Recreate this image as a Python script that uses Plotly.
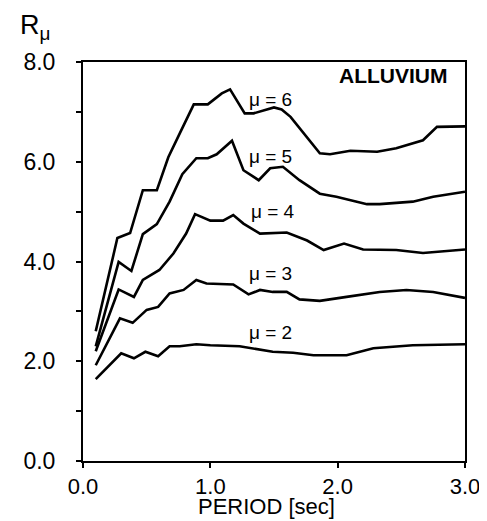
import plotly.graph_objects as go

# --- data ---
mu6_x = [0.1, 0.27, 0.37, 0.47, 0.58, 0.67, 0.76, 0.87, 0.98, 1.09, 1.155, 1.27, 1.34, 1.43, 1.5, 1.56, 1.63, 1.86, 1.94, 2.1, 2.31, 2.46, 2.67, 2.78, 3.0]
mu6_y = [2.6, 4.47, 4.57, 5.43, 5.43, 6.09, 6.57, 7.15, 7.15, 7.37, 7.45, 6.97, 6.97, 7.03, 7.09, 7.05, 6.9, 6.17, 6.15, 6.22, 6.2, 6.27, 6.43, 6.7, 6.71]

mu5_x = [0.1, 0.28, 0.38, 0.47, 0.58, 0.68, 0.78, 0.89, 0.98, 1.05, 1.17, 1.26, 1.38, 1.47, 1.57, 1.7, 1.86, 1.99, 2.23, 2.33, 2.59, 2.75, 3.0]
mu5_y = [2.3, 3.99, 3.81, 4.55, 4.75, 5.2, 5.75, 6.07, 6.07, 6.15, 6.42, 5.83, 5.63, 5.87, 5.9, 5.63, 5.36, 5.3, 5.15, 5.15, 5.2, 5.3, 5.4]

mu4_x = [0.1, 0.28, 0.4, 0.47, 0.6, 0.71, 0.81, 0.88, 1.0, 1.1, 1.18, 1.26, 1.39, 1.6, 1.76, 1.89, 2.05, 2.2, 2.46, 2.67, 3.0]
mu4_y = [2.2, 3.44, 3.29, 3.63, 3.83, 4.16, 4.56, 4.95, 4.82, 4.82, 4.93, 4.76, 4.56, 4.58, 4.42, 4.23, 4.36, 4.24, 4.23, 4.17, 4.24]

mu3_x = [0.1, 0.29, 0.39, 0.5, 0.59, 0.68, 0.79, 0.89, 0.97, 1.18, 1.3, 1.39, 1.49, 1.6, 1.7, 1.86, 2.07, 2.33, 2.54, 2.75, 3.0]
mu3_y = [1.92, 2.86, 2.77, 3.03, 3.09, 3.36, 3.43, 3.63, 3.56, 3.54, 3.34, 3.43, 3.39, 3.39, 3.24, 3.21, 3.29, 3.39, 3.43, 3.39, 3.27]

mu2_x = [0.1, 0.3, 0.4, 0.49, 0.59, 0.68, 0.76, 0.89, 1.0, 1.23, 1.49, 1.65, 1.81, 2.07, 2.28, 2.59, 3.0]
mu2_y = [1.64, 2.16, 2.06, 2.19, 2.10, 2.30, 2.30, 2.34, 2.32, 2.30, 2.19, 2.17, 2.12, 2.12, 2.26, 2.32, 2.34]

series_names = ["μ = 6", "μ = 5", "μ = 4", "μ = 3", "μ = 2"]
series_x = [mu6_x, mu5_x, mu4_x, mu3_x, mu2_x]
series_y = [mu6_y, mu5_y, mu4_y, mu3_y, mu2_y]

label_x = [1.47, 1.47, 1.49, 1.47, 1.47]
label_y = [7.24, 6.11, 5.01, 3.76, 2.58]

x_tick_vals = [0.0, 1.0, 2.0, 3.0]
x_tick_text = ["0.0", "1.0", "2.0", "3.0"]
y_tick_vals = [0, 1, 2, 3, 4, 5, 6, 7, 8]
y_tick_text = ["0.0", "", "2.0", "", "4.0", "", "6.0", "", "8.0"]

FONT = "Liberation Sans, Arial, sans-serif"

# the page body adds an 8px offset; figure sized to fit the 487x521 window
OFF = 8
W, H = 487 - OFF, 521 - OFF
ML, MR, MT, MB = 83 - OFF, 22, 62 - OFF, 60
PW, PH = W - ML - MR, H - MT - MB


def px_x(p):
    # p: page pixel x
    return (p - OFF - ML) / PW


def px_y(p):
    # p: page pixel y
    return (H - MB - (p - OFF)) / PH


fig = go.Figure()
for name, xs, ys in zip(series_names, series_x, series_y):
    fig.add_trace(go.Scatter(x=xs, y=ys, mode="lines", name=name,
                             line=dict(color="black", width=2.6),
                             showlegend=False, hoverinfo="skip"))

for name, lx, ly in zip(series_names, label_x, label_y):
    fig.add_annotation(x=lx, y=ly, text=name, showarrow=False,
                       font=dict(family=FONT, size=19, color="black"),
                       xanchor="center", yanchor="middle")

fig.add_annotation(x=2.44, y=7.73, text="<b>ALLUVIUM</b>", showarrow=False,
                   font=dict(family=FONT, size=21, color="black"),
                   xanchor="center", yanchor="middle")

fig.add_annotation(x=px_x(18), y=px_y(27), xref="paper", yref="paper",
                   text="R<sub>μ</sub>", showarrow=False,
                   font=dict(family=FONT, size=27, color="black"),
                   xanchor="left", yanchor="middle")

fig.add_annotation(x=px_x(266), y=px_y(506), xref="paper", yref="paper",
                   text="PERIOD [sec]", showarrow=False,
                   font=dict(family=FONT, size=22, color="black"),
                   xanchor="center", yanchor="middle")

fig.update_layout(
    width=W, height=H,
    margin=dict(l=ML, r=MR, t=MT, b=MB, pad=0),
    plot_bgcolor="white", paper_bgcolor="white",
    font=dict(family=FONT, color="black"),
    xaxis=dict(range=[0, 3.0], tickvals=x_tick_vals, ticktext=x_tick_text,
               showgrid=False, zeroline=False, showline=True, linecolor="black",
               linewidth=2, mirror=True, ticks="outside", ticklen=5, tickwidth=2,
               tickcolor="black", tickfont=dict(size=22, family=FONT),
               automargin=False),
    yaxis=dict(range=[0, 8.0], tickvals=y_tick_vals, ticktext=y_tick_text,
               showgrid=False, zeroline=False, showline=True, linecolor="black",
               linewidth=2, mirror=True, ticks="outside", ticklen=5, tickwidth=2,
               tickcolor="black", tickfont=dict(size=23, family=FONT),
               ticklabelstandoff=16, automargin=False),
)

fig.write_html("out.html")
